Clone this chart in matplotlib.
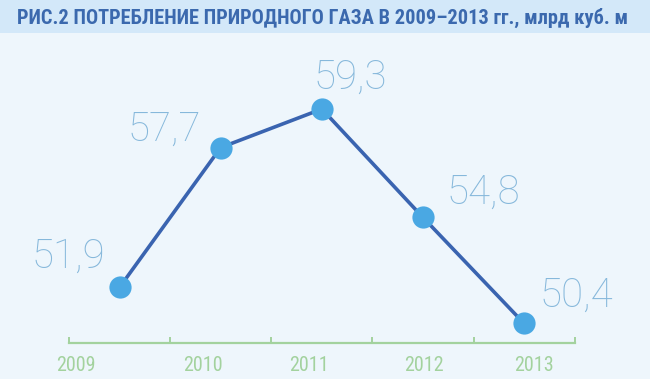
import matplotlib
matplotlib.use("Agg")
import matplotlib.pyplot as plt
from matplotlib.patches import Rectangle
from matplotlib.ticker import FixedLocator
from matplotlib import font_manager as fm

# ---- data ----
years = ["2009", "2010", "2011", "2012", "2013"]
values = [51.9, 57.7, 59.3, 54.8, 50.4]
value_labels = ["51,9", "57,7", "59,3", "54,8", "50,4"]
title = "РИС.2 ПОТРЕБЛЕНИЕ ПРИРОДНОГО ГАЗА В 2009–2013 гг., млрд куб. м"

# ---- styling ----
W, H, DPI = 650, 379, 100
bg = "#eef6fc"
band = "#d3e8f9"
title_col = "#3b69ae"
line_col = "#3a64b0"
marker_col = "#4aa8e3"
label_col = "#86b8db"
axis_col = "#a3d29e"
val_off = [(-51, 31), (-56, 18), (28, 32), (60, 25), (52, 28)]
year_shift = [-0.43, -0.18, -0.13, 0.01, 0.10]

names = {f.name for f in fm.fontManager.ttflist}
narrow = [n for n in ["Roboto Condensed", "Liberation Sans Narrow", "Open Sans Condensed",
                      "DejaVu Sans Condensed"] if n in names]
cond_family = narrow + ["DejaVu Sans"]

fig = plt.figure(figsize=(W / DPI, H / DPI), dpi=DPI, facecolor=bg)

fig.patches.append(Rectangle((0, 1 - 33 / H), 1, 33 / H, transform=fig.transFigure,
                             facecolor=band, edgecolor="none", zorder=0))
t = fig.text(17 / W, 1 - 17.5 / H, title, ha="left", va="center", color=title_col,
             fontsize=14, fontweight="bold", family=cond_family, fontstretch="condensed")

x0, x1 = 69, 574.7
yb, yt = 342.7, 40
ax = fig.add_axes([x0 / W, 1 - yb / H, (x1 - x0) / W, (yb - yt) / H])
ax.set_facecolor("none")
xs = list(range(len(years)))
ax.set_xlim(-0.5, len(years) - 0.5)
slope = 24.1
ax.set_ylim(59.3 - (yb - 109) / slope, 59.3 + (109 - yt) / slope)

ax.plot(xs, values, color=line_col, lw=2.6, zorder=2, clip_on=False)
ax.plot(xs, values, "o", color=marker_col, ms=16, mec="none", zorder=3, clip_on=False)

for x, v, lab, (dx, dy) in zip(xs, values, value_labels, val_off):
    ax.annotate(lab, (x, v), xytext=(dx, dy), textcoords="offset pixels",
                ha="center", va="center", color=label_col, fontsize=29,
                family="Roboto", fontweight="light", annotation_clip=False)

for s in ["top", "left", "right"]:
    ax.spines[s].set_visible(False)
ax.spines["bottom"].set_color(axis_col)
ax.spines["bottom"].set_linewidth(1.6)
ax.set_yticks([])
ax.xaxis.set_major_locator(FixedLocator([i - 0.5 for i in range(len(years) + 1)]))
ax.tick_params(axis="x", direction="in", length=4.2, width=1.4, color=axis_col,
               labelbottom=False)

for i, (yr, sh) in enumerate(zip(years, year_shift)):
    ax.text(i + sh, -(365.7 - yb) / (yb - yt), yr, transform=ax.get_xaxis_transform(),
            ha="center", va="center", color=axis_col, fontsize=14.5,
            family=cond_family, fontstretch="condensed")

# fit the title to the reference width (17 px .. 632 px)
fig.canvas.draw()
bb = t.get_window_extent()
t.set_fontsize(14 * (632 - 17) / bb.width)

fig.savefig("out.png", dpi=DPI, facecolor=bg)
